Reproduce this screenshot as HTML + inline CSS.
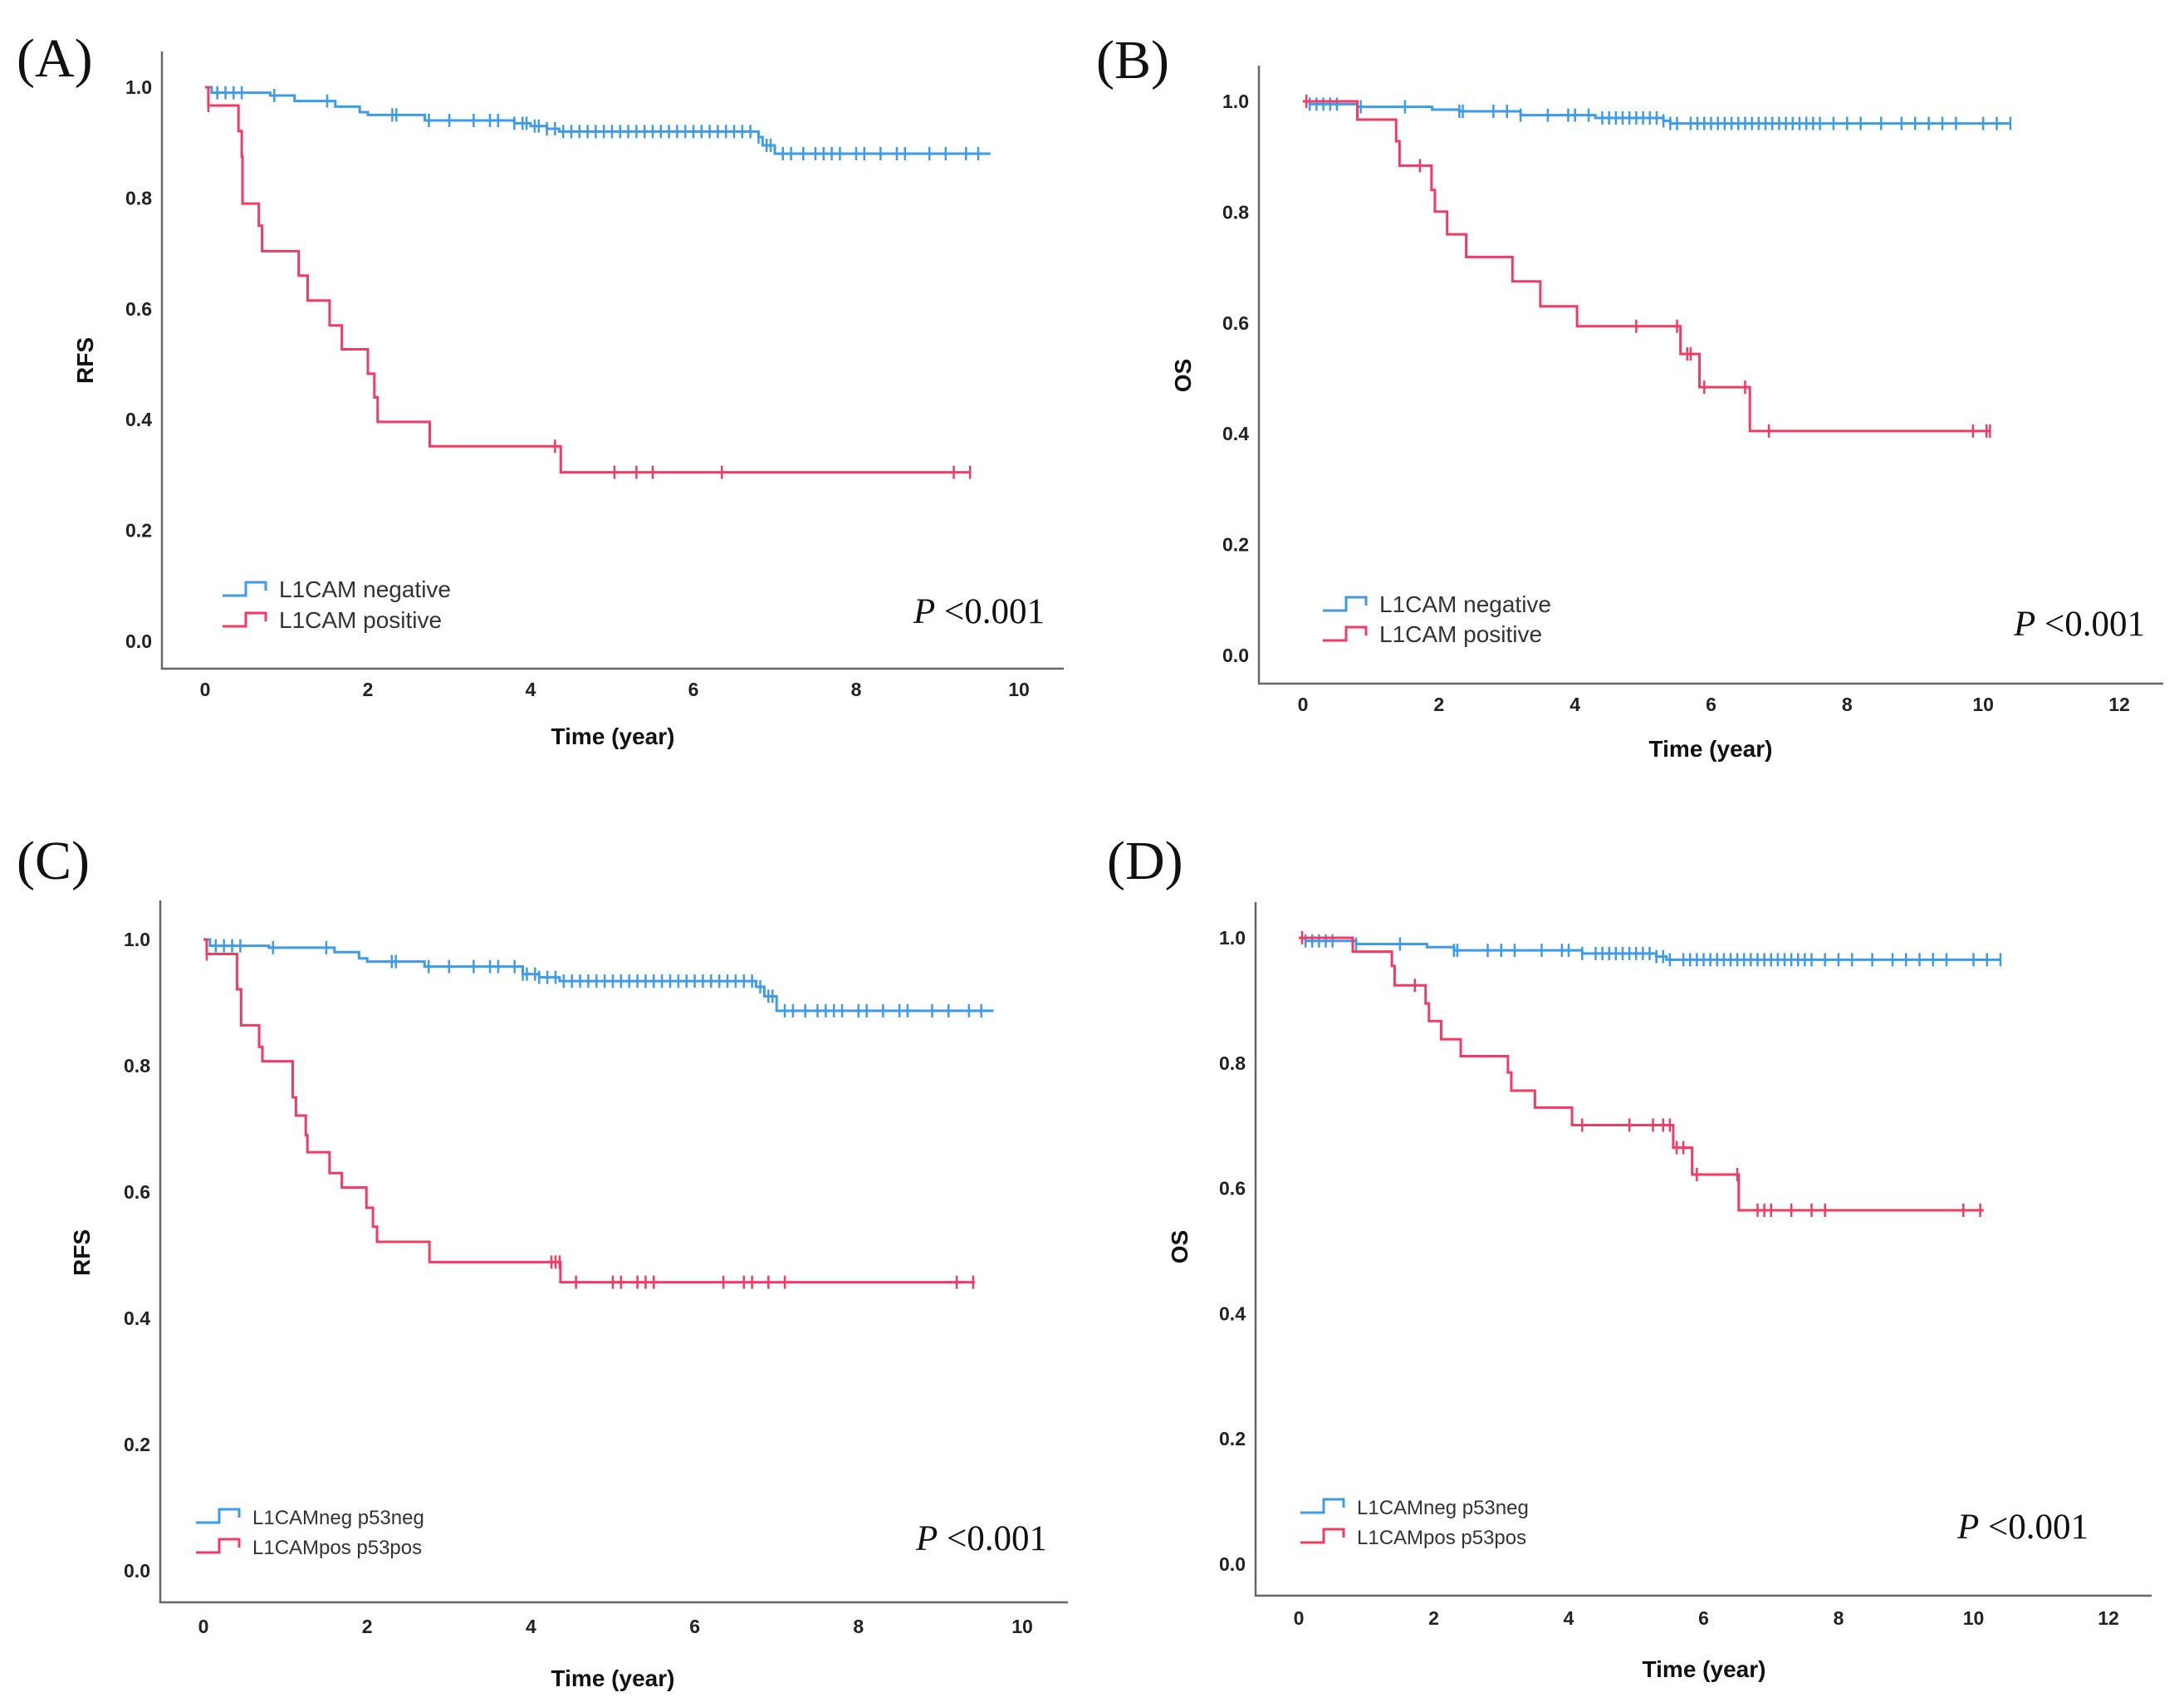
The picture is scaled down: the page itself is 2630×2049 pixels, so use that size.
<!DOCTYPE html>
<html><head><meta charset="utf-8">
<style>
html,body{margin:0;padding:0;background:#fff;overflow:hidden;}
svg{display:block;}
.tick{font-family:"Liberation Sans",Arial,sans-serif;font-weight:bold;font-size:23px;fill:#222;}
.ttl{font-family:"Liberation Sans",Arial,sans-serif;font-weight:bold;font-size:28px;fill:#111;}
.leg{font-family:"Liberation Sans",Arial,sans-serif;font-size:28px;fill:#333;}
.pl{font-family:"Liberation Serif","Times New Roman",serif;font-size:66px;fill:#111;}
.pv{font-family:"Liberation Serif","Times New Roman",serif;font-size:43px;fill:#111;}
</style></head>
<body>
<svg id="fig" width="2630" height="2049" viewBox="0 0 2630 2049" xmlns="http://www.w3.org/2000/svg"></svg>
<script>
// ---- Data (time in years, survival proportion) ----
const yTicks = [0.0, 0.2, 0.4, 0.6, 0.8, 1.0];
const xTicks10 = [0, 2, 4, 6, 8, 10];
const xTicks12 = [0, 2, 4, 6, 8, 10, 12];

// Panel A
const aNegT = [0.08, 0.8, 1.1, 1.6, 1.9, 2.0, 2.7, 3.8, 4.0, 4.2, 4.35, 6.8, 6.85, 7.0];
const aNegS = [0.99, 0.985, 0.975, 0.965, 0.955, 0.95, 0.94, 0.935, 0.93, 0.925, 0.92, 0.91, 0.895, 0.88];
const aNegEnd = 9.65;
const aNegC = [0.15,0.25,0.35,0.45,0.85,1.5,2.3,2.35,2.75,3.0,3.3,3.5,3.6,3.8,3.9,3.95,4.05,4.1,4.2,4.3,4.4,4.5,4.6,4.7,4.8,4.9,5.0,5.1,5.2,5.3,5.4,5.5,5.6,5.7,5.8,5.9,6.0,6.1,6.2,6.3,6.4,6.5,6.6,6.7,6.8,6.9,6.95,7.1,7.2,7.35,7.5,7.6,7.7,7.8,8.0,8.1,8.3,8.5,8.6,8.9,9.1,9.35,9.5];
const aPosT = [0.04, 0.41, 0.45, 0.46, 0.66, 0.70, 1.15, 1.26, 1.53, 1.68, 2.0, 2.08, 2.12, 2.76, 4.37];
const aPosS = [0.967, 0.921, 0.875, 0.79, 0.75, 0.704, 0.66, 0.615, 0.57, 0.527, 0.483, 0.44, 0.396, 0.352, 0.305];
const aPosEnd = 9.4;
const aPosC = [0.04, 4.3, 5.03, 5.3, 5.5, 6.35, 9.2, 9.4];

// Panel B
const bNegT = [0.1, 0.8, 1.9, 2.3, 3.2, 4.3, 5.3, 5.4];
const bNegS = [0.995, 0.99, 0.985, 0.982, 0.975, 0.97, 0.965, 0.96];
const bNegEnd = 10.4;
const bNegC = [0.1,0.2,0.3,0.4,0.5,0.85,1.5,2.3,2.35,2.8,3.0,3.2,3.6,3.9,4.0,4.2,4.4,4.5,4.6,4.7,4.8,4.9,5.0,5.1,5.2,5.3,5.4,5.5,5.7,5.8,5.9,6.0,6.1,6.2,6.3,6.4,6.5,6.6,6.7,6.8,6.9,7.0,7.1,7.2,7.3,7.4,7.5,7.6,7.8,8.0,8.2,8.5,8.8,9.0,9.2,9.4,9.6,10.0,10.2,10.4];
const bPosT = [0.8, 1.37, 1.42, 1.89, 1.94, 2.12, 2.4, 3.08, 3.49, 4.03, 5.55, 5.83, 6.57];
const bPosS = [0.967, 0.928, 0.884, 0.84, 0.801, 0.76, 0.719, 0.675, 0.63, 0.594, 0.544, 0.484, 0.405];
const bPosEnd = 10.1;
const bPosC = [0.05, 1.72, 4.9, 5.5, 5.65, 5.7, 5.9, 6.5, 6.85, 9.85, 10.05, 10.1];

// Panel C
const cNegT = [0.08, 0.8, 1.6, 1.9, 2.0, 2.7, 3.9, 4.1, 4.35, 6.75, 6.85, 7.0];
const cNegS = [0.99, 0.987, 0.98, 0.97, 0.965, 0.957, 0.945, 0.94, 0.934, 0.925, 0.91, 0.887];
const cNegEnd = 9.65;
const cNegC = aNegC;
const cPosT = [0.04, 0.41, 0.46, 0.68, 0.72, 1.09, 1.13, 1.25, 1.27, 1.54, 1.69, 1.99, 2.07, 2.12, 2.76, 4.36];
const cPosS = [0.977, 0.921, 0.864, 0.83, 0.807, 0.75, 0.721, 0.69, 0.663, 0.63, 0.607, 0.575, 0.545, 0.521, 0.489, 0.457];
const cPosEnd = 9.42;
const cPosC = [0.04, 4.25, 4.3, 4.35, 4.55, 5.0, 5.1, 5.3, 5.4, 5.5, 6.35, 6.6, 6.7, 6.9, 7.1, 9.2, 9.4];

// Panel D
const dNegT = [0.1, 0.85, 1.9, 2.3, 4.2, 5.3, 5.45];
const dNegS = [0.995, 0.99, 0.985, 0.98, 0.975, 0.97, 0.965];
const dNegEnd = 10.4;
const dNegC = bNegC;
const dPosT = [0.8, 1.38, 1.42, 1.88, 1.93, 2.11, 2.4, 3.1, 3.15, 3.5, 4.05, 5.55, 5.83, 6.52];
const dPosS = [0.978, 0.955, 0.924, 0.895, 0.867, 0.838, 0.811, 0.785, 0.756, 0.729, 0.701, 0.665, 0.622, 0.565];
const dPosEnd = 10.15;
const dPosC = [0.05, 1.72, 4.2, 4.9, 5.25, 5.4, 5.5, 5.6, 5.7, 5.9, 6.5, 6.8, 6.9, 7.0, 7.3, 7.6, 7.8, 9.85, 10.1];

const BLUE = '#3d9be9', RED = '#f23a63';
const NS = 'http://www.w3.org/2000/svg';
const svg = document.getElementById('fig');

function mk(tag, attrs, parent) {
  const e = document.createElementNS(NS, tag);
  for (const k in attrs) e.setAttribute(k, attrs[k]);
  (parent || svg).appendChild(e);
  return e;
}

function survAt(T, S, t) {
  let s = 1;
  for (let i = 0; i < T.length; i++) { if (T[i] <= t) s = S[i]; }
  return s;
}

function drawPanel(p) {
  const g = mk('g', {});
  
  
  const xs = t => p.x0 + t * (p.xMaxPx - p.x0) / p.xMax;
  const ys = v => p.y0 - v * (p.y0 - p.y1);

  const ax = mk('path', {d: `M${p.axL},${p.axT} L${p.axL},${p.axB} L${p.axR},${p.axB}`, fill: 'none', stroke: '#666', 'stroke-width': 2.5}, g);
  
  

  yTicks.forEach(v => {
    const t = mk('text', {x: p.axL - 12, y: ys(v) + 8, 'text-anchor': 'end', class: 'tick'}, g);
    t.textContent = v.toFixed(1);
    
    
  });
  p.xTicks.forEach(v => {
    const t = mk('text', {x: xs(v), y: p.xTickY + 8, 'text-anchor': 'middle', class: 'tick'}, g);
    t.textContent = String(v);
    
    
  });
  const xt = mk('text', {x: p.xTitleX, y: p.xTitleY + 10, 'text-anchor': 'middle', class: 'ttl'}, g);
  xt.textContent = 'Time (year)';
  
  
  const yt = mk('text', {x: 0, y: 0, 'text-anchor': 'middle', class: 'ttl', transform: `translate(${p.yTitleX},${p.yTitleY}) rotate(-90)`}, g);
  yt.textContent = p.yTitle;
  
  

  const pl = mk('text', {x: p.lblX, y: p.lblY, class: 'pl'}, g);
  pl.textContent = '(' + p.id.toUpperCase() + ')';
  
  

  const series = [
    {T: p.negT, S: p.negS, C: p.negC, end: p.negEnd, col: BLUE, name: 'negative'},
    {T: p.posT, S: p.posS, C: p.posC, end: p.posEnd, col: RED, name: 'positive'}
  ];
  series.forEach(se => {
    let d = `M${xs(0)},${ys(1)}`;
    let cur = 1;
    for (let i = 0; i < se.T.length; i++) {
      d += ` L${xs(se.T[i])},${ys(cur)} L${xs(se.T[i])},${ys(se.S[i])}`;
      cur = se.S[i];
    }
    d += ` L${xs(se.end)},${ys(cur)}`;
    const path = mk('path', {d: d, fill: 'none', stroke: se.col, 'stroke-width': 3}, g);
    
    
    let cd = '';
    se.C.forEach(c => {
      const cx = xs(c), cy = ys(survAt(se.T, se.S, c));
      cd += `M${cx},${cy - 8} L${cx},${cy + 8} `;
    });
    const cp = mk('path', {d: cd, fill: 'none', stroke: se.col, 'stroke-width': 2.5}, g);
    
    
  });

  p.legend.forEach((txt, i) => {
    const col = i === 0 ? BLUE : RED;
    const ly = p.legY[i];
    const lx = p.legX;
    const ic = mk('path', {d: `M${lx},${ly + 8} L${lx + 28},${ly + 8} L${lx + 28},${ly - 8} L${lx + 52},${ly - 8} L${lx + 52},${ly + 2}`, fill: 'none', stroke: col, 'stroke-width': 3}, g);
    
    
    const lt = mk('text', {x: lx + 68, y: ly + 10, class: 'leg', style: `font-size:${p.legFs}px`}, g);
    lt.textContent = txt;
    
    
  });

  const pv = mk('text', {x: p.pX, y: p.pY, class: 'pv'}, g);
  const it = mk('tspan', {'font-style': 'italic'}, pv);
  it.textContent = 'P';
  const rest = mk('tspan', {}, pv);
  rest.textContent = ' <0.001';
  
  
}

drawPanel({id: 'a', x0: 247, xMaxPx: 1227, xMax: 10, y0: 772, y1: 105,
  axL: 195, axT: 62, axB: 805, axR: 1281, xTicks: xTicks10, xTickY: 830,
  xTitleX: 738, xTitleY: 886, yTitleX: 112, yTitleY: 434, yTitle: 'RFS', lblX: 20, lblY: 92,
  negT: aNegT, negS: aNegS, negC: aNegC, negEnd: aNegEnd,
  posT: aPosT, posS: aPosS, posC: aPosC, posEnd: aPosEnd,
  legend: ['L1CAM negative', 'L1CAM positive'], legX: 268, legY: [709, 746], legFs: 28,
  pX: 1100, pY: 750});

drawPanel({id: 'b', x0: 1569, xMaxPx: 2552, xMax: 12, y0: 789, y1: 122,
  axL: 1516, axT: 79, axB: 823, axR: 2605, xTicks: xTicks12, xTickY: 848,
  xTitleX: 2060, xTitleY: 901, yTitleX: 1434, yTitleY: 452, yTitle: 'OS', lblX: 1320, lblY: 94,
  negT: bNegT, negS: bNegS, negC: bNegC, negEnd: bNegEnd,
  posT: bPosT, posS: bPosS, posC: bPosC, posEnd: bPosEnd,
  legend: ['L1CAM negative', 'L1CAM positive'], legX: 1593, legY: [727, 763], legFs: 28,
  pX: 2425, pY: 765});

drawPanel({id: 'c', x0: 245, xMaxPx: 1231, xMax: 10, y0: 1891, y1: 1131,
  axL: 193, axT: 1084, axB: 1929, axR: 1286, xTicks: xTicks10, xTickY: 1958,
  xTitleX: 738, xTitleY: 2020, yTitleX: 108, yTitleY: 1508, yTitle: 'RFS', lblX: 20, lblY: 1058,
  negT: cNegT, negS: cNegS, negC: cNegC, negEnd: cNegEnd,
  posT: cPosT, posS: cPosS, posC: cPosC, posEnd: cPosEnd,
  legend: ['L1CAMneg p53neg', 'L1CAMpos p53pos'], legX: 236, legY: [1825, 1861], legFs: 24,
  pX: 1103, pY: 1866});

drawPanel({id: 'd', x0: 1564, xMaxPx: 2539, xMax: 12, y0: 1883, y1: 1129,
  axL: 1512, axT: 1086, axB: 1921, axR: 2591, xTicks: xTicks12, xTickY: 1948,
  xTitleX: 2052, xTitleY: 2009, yTitleX: 1430, yTitleY: 1501, yTitle: 'OS', lblX: 1333, lblY: 1058,
  negT: dNegT, negS: dNegS, negC: dNegC, negEnd: dNegEnd,
  posT: dPosT, posS: dPosS, posC: dPosC, posEnd: dPosEnd,
  legend: ['L1CAMneg p53neg', 'L1CAMpos p53pos'], legX: 1566, legY: [1813, 1849], legFs: 24,
  pX: 2357, pY: 1852});
</script>
</body></html>
